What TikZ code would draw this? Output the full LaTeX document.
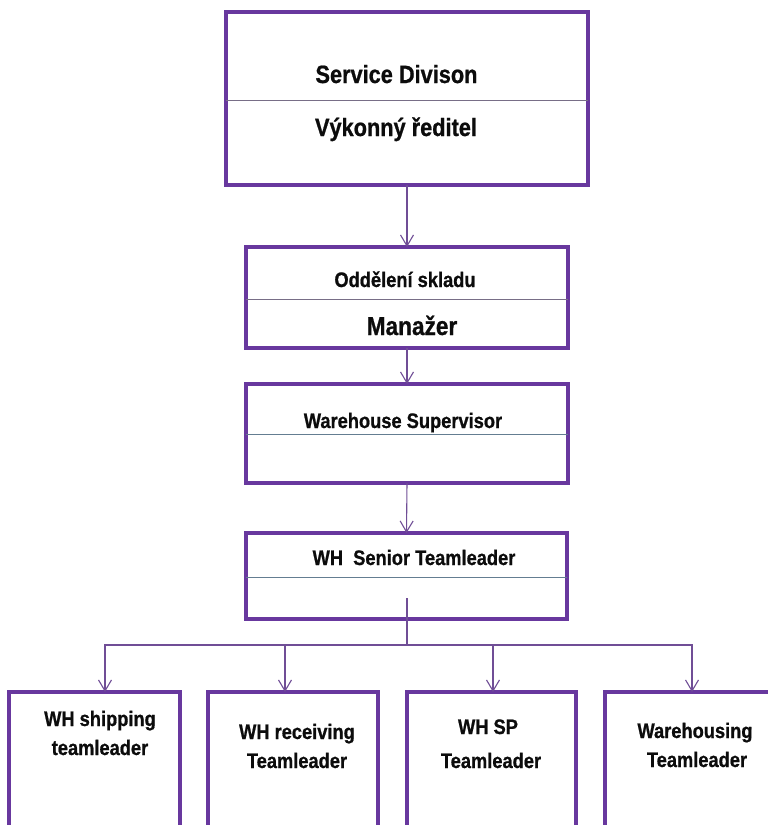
\documentclass[tikz,border=0pt]{standalone}
\usepackage{fontspec}
\setmainfont[FakeStretch=0.87, BoldFeatures={FakeBold=0.8}]{Liberation Sans}
\usetikzlibrary{arrows.meta}
\definecolor{boxpurple}{RGB}{104,56,158}
\definecolor{linepurple}{RGB}{112,78,150}
\definecolor{divgray}{RGB}{120,110,135}
\definecolor{divblue}{RGB}{100,125,145}
\definecolor{txt}{RGB}{12,12,12}
\tikzset{
  box/.style={draw=boxpurple, line width=3.1pt, rectangle, inner sep=0pt, outer sep=0pt, fill=white},
  conn/.style={draw=linepurple, line width=1.1pt},
  arr/.style={conn, -{Straight Barb[length=11pt,width=13pt,line width=1.1pt]}},
  divA/.style={draw=divgray, line width=0.9pt},
  divB/.style={draw=divblue, line width=0.9pt},
  lbl/.style={anchor=base, inner sep=0pt, text=txt, font=\bfseries\fontsize{21}{25}\selectfont},
  lblbig/.style={lbl, font=\bfseries\fontsize{25}{30}\selectfont},
  lblman/.style={lbl, font=\bfseries\fontsize{26}{30}\selectfont},
}
\begin{document}
\begin{tikzpicture}[x=1pt,y=-1pt]
\useasboundingbox (0,0) rectangle (768,825);
\clip (0,0) rectangle (768,825);
% main column
\node[box, minimum width=362pt, minimum height=173pt] (b1) at (407,98.5) {};
\node[box, minimum width=322pt, minimum height=101pt] (b2) at (407,297.5) {};
\node[box, minimum width=322pt, minimum height=99pt] (b3) at (407,433.5) {};
\node[box, minimum width=321pt, minimum height=86pt] (b4) at (406.5,576) {};
% bottom row (cut off by the page)
\node[box, minimum width=171pt, minimum height=220pt] (ba) at (94.5,802) {};
\node[box, minimum width=170pt, minimum height=220pt] (bb) at (293,802) {};
\node[box, minimum width=169pt, minimum height=220pt] (bc) at (491.5,802) {};
\node[box, minimum width=184pt, minimum height=220pt] (bd) at (697,802) {};
% dividers
\draw[divA] (b1.west |- 0,100) -- (b1.east |- 0,100);
\draw[divA] (b2.west |- 0,299) -- (b2.east |- 0,299);
\draw[divB] (b3.west |- 0,434) -- (b3.east |- 0,434);
\draw[divB] (b4.west |- 0,577) -- (b4.east |- 0,577);
% texts
\node[lblbig] (t1a) at (396.5,83) {Service Divison};
\node[lblbig] (t1b) at (396,136) {Výkonný ředitel};
\node[lbl] (t2a) at (405,287) {Oddělení skladu};
\node[lblman] (t2b) at (412,335) {Manažer};
\node[lbl] (t3) at (403,428) {Warehouse Supervisor};
\node[lbl] (t4) at (414,565) {WH\ \ Senior Teamleader};
\node[lbl] (ta1) at (100,726) {WH shipping};
\node[lbl] (ta2) at (100,755) {teamleader};
\node[lbl] (tb1) at (297,739) {WH receiving};
\node[lbl] (tb2) at (297,768) {Teamleader};
\node[lbl] (tc1) at (488,734) {WH SP};
\node[lbl] (tc2) at (491,768) {Teamleader};
\node[lbl] (td1) at (695,738) {Warehousing};
\node[lbl] (td2) at (697,767) {Teamleader};
% connectors
\draw[arr] (b1.south) -- (b2.north);
\draw[arr] (b2.south) -- (b3.north);
\draw[arr] (b3.south) -- (b4.north);
\coordinate (st) at (407,598);
\coordinate (jn) at (407,645);
\draw[conn] (st) -- (jn);
\draw[arr] (jn) -| ([xshift=96pt]ba.north west);
\draw[arr] (jn) -| ([xshift=77pt]bb.north west);
\draw[arr] (jn) -| ([xshift=86pt]bc.north west);
\draw[arr] (jn) -| ([xshift=87pt]bd.north west);
\end{tikzpicture}
\end{document}
